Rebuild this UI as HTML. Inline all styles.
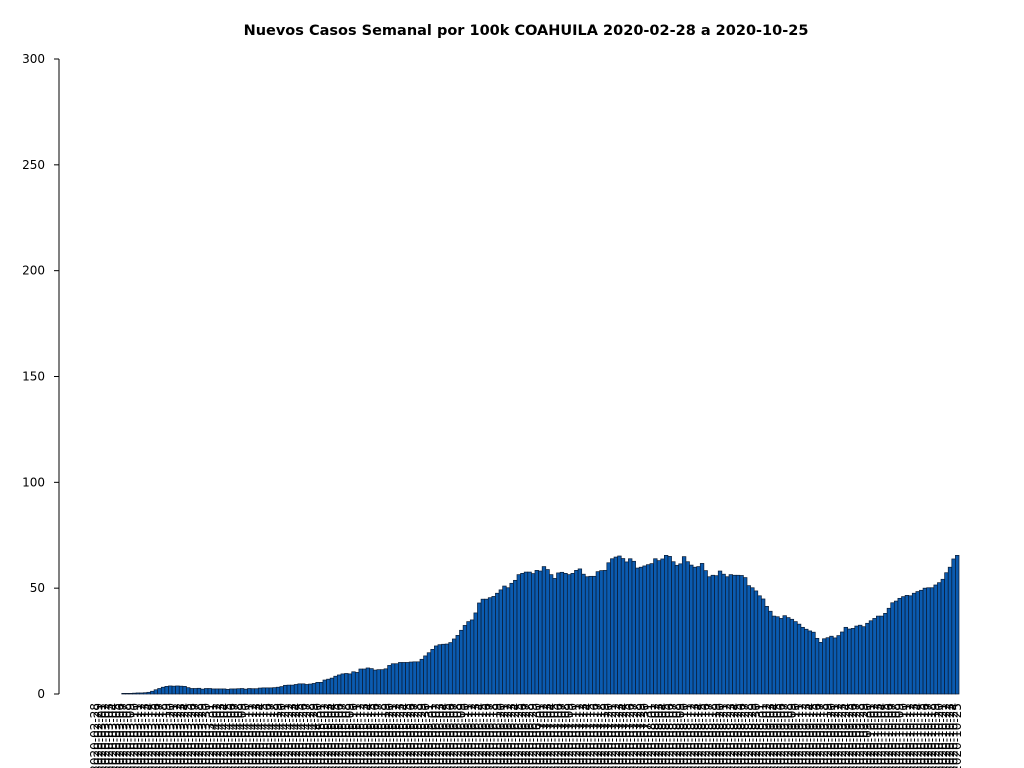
<!DOCTYPE html>
<html><head><meta charset="utf-8"><style>
html,body{margin:0;padding:0;background:#fff;width:1024px;height:768px;overflow:hidden}
svg{display:block;font-family:"DejaVu Sans","Liberation Sans",sans-serif}
</style></head><body>
<svg id="chart" width="1024" height="768">
<text x="526" y="35" text-anchor="middle" font-size="14.5" font-weight="bold">Nuevos Casos Semanal por 100k COAHUILA 2020-02-28 a 2020-10-25</text>
<g id="yaxis"></g>
<g id="bars"></g>
<g id="xaxis"></g>
</svg>
<script>
const startDate = "2020-02-28";
const values = [
0,0,0,0,0,0,0,0,0.3,0.3,0.3,0.4,0.5,0.5,0.6,0.8,1.3,2.0,2.6,3.2,3.6,3.8,3.7,3.8,3.7,3.6,3.0,2.6,2.6,2.7,2.3,2.6,2.6,2.4,2.4,2.4,2.4,2.2,2.4,2.4,2.5,2.6,2.3,2.6,2.5,2.5,2.8,2.9,2.9,2.9,3.0,3.2,3.5,4.1,4.2,4.2,4.5,4.8,4.8,4.5,4.7,5.0,5.5,5.5,6.6,7.0,7.5,8.4,9.0,9.5,9.7,9.5,10.5,10.2,11.8,11.8,12.3,12.0,
11.3,11.5,11.5,11.9,13.5,14.3,14.3,14.9,14.9,14.9,15.1,15.2,15.2,16.4,18.0,19.5,21.1,22.7,23.3,23.5,23.6,24.3,26.0,27.7,30.1,32.4,34.2,35.0,38.3,43.0,44.8,44.8,45.5,46.1,47.6,49.2,51.0,50.2,52.3,53.7,56.4,57.0,57.6,57.6,56.9,58.4,58.1,60.2,58.8,56.4,54.6,57.2,57.5,57.0,56.4,57.0,58.4,59.1,56.6,55.4,55.6,55.6,57.8,58.3,58.4,62.0,63.9,64.7,65.2,64.0,62.4,63.9,62.7,59.5,59.9,60.5,61.1,61.6,63.9,63.0,63.8,65.5,65.0,62.5,60.8,61.5,
64.9,62.5,60.9,59.9,60.2,61.7,58.3,55.4,56.1,55.9,58.1,56.6,55.4,56.4,56.1,56.1,56.0,55.0,51.2,50.2,48.7,46.4,44.9,41.4,39.1,36.8,36.5,35.7,37.0,36.1,35.3,34.2,33.0,31.5,30.6,29.8,29.2,26.3,24.4,26.1,26.6,27.3,26.5,27.6,29.3,31.5,30.7,31.0,32.1,32.5,31.8,33.4,34.6,35.7,36.8,36.8,38.1,40.5,43.1,43.9,45.2,46.0,46.6,46.4,47.6,48.4,49.0,50.0,50.2,50.2,51.5,52.6,54.2,57.3,59.9,63.8,65.5
];
const yTicks = [0,50,100,150,200,250,300];

const NS="http://www.w3.org/2000/svg";
const X0=93, X1=959, Y0=694, Ytop=59, YMAX=300;
const n=values.length, pitch=(X1-X0)/n;
const yS=v=>Y0-(v/YMAX)*(Y0-Ytop);
const xS=i=>X0+i*pitch;
function mk(tag,attrs,parent){const e=document.createElementNS(NS,tag);for(const k in attrs)e.setAttribute(k,attrs[k]);parent.appendChild(e);return e;}
const ya=document.getElementById('yaxis'),bg=document.getElementById('bars'),xa=document.getElementById('xaxis');
const spine=mk('line',{x1:59,y1:Ytop,x2:59,y2:Y0,stroke:'#000','stroke-width':1},ya);


yTicks.forEach(t=>{
  const y=yS(t);
  const tk=mk('line',{x1:54,y1:y,x2:59,y2:y,stroke:'#000','stroke-width':1},ya);
  
  
  const tx=mk('text',{x:45,y:y+4,'text-anchor':'end','font-size':12},ya);
  tx.textContent=t;
  
  
});
const d0=new Date(startDate+"T00:00:00Z");
values.forEach((v,i)=>{
  const y=yS(v);
  const r=mk('rect',{x:xS(i),y:y,width:pitch,height:Math.max(0,Y0-y),fill:'#0b5bb0',stroke:'#0a1b33','stroke-width':0.7},bg);
  
  
  const d=new Date(d0.getTime()+i*86400000);
  const lbl=d.toISOString().slice(0,10);
  const cx=xS(i)+pitch/2;
  const t=mk('text',{x:0,y:0,'font-size':12,'text-anchor':'end',transform:`translate(${cx+4},703) rotate(-90)`},xa);
  t.textContent=lbl;
  
  
});
</script>
</body></html>
